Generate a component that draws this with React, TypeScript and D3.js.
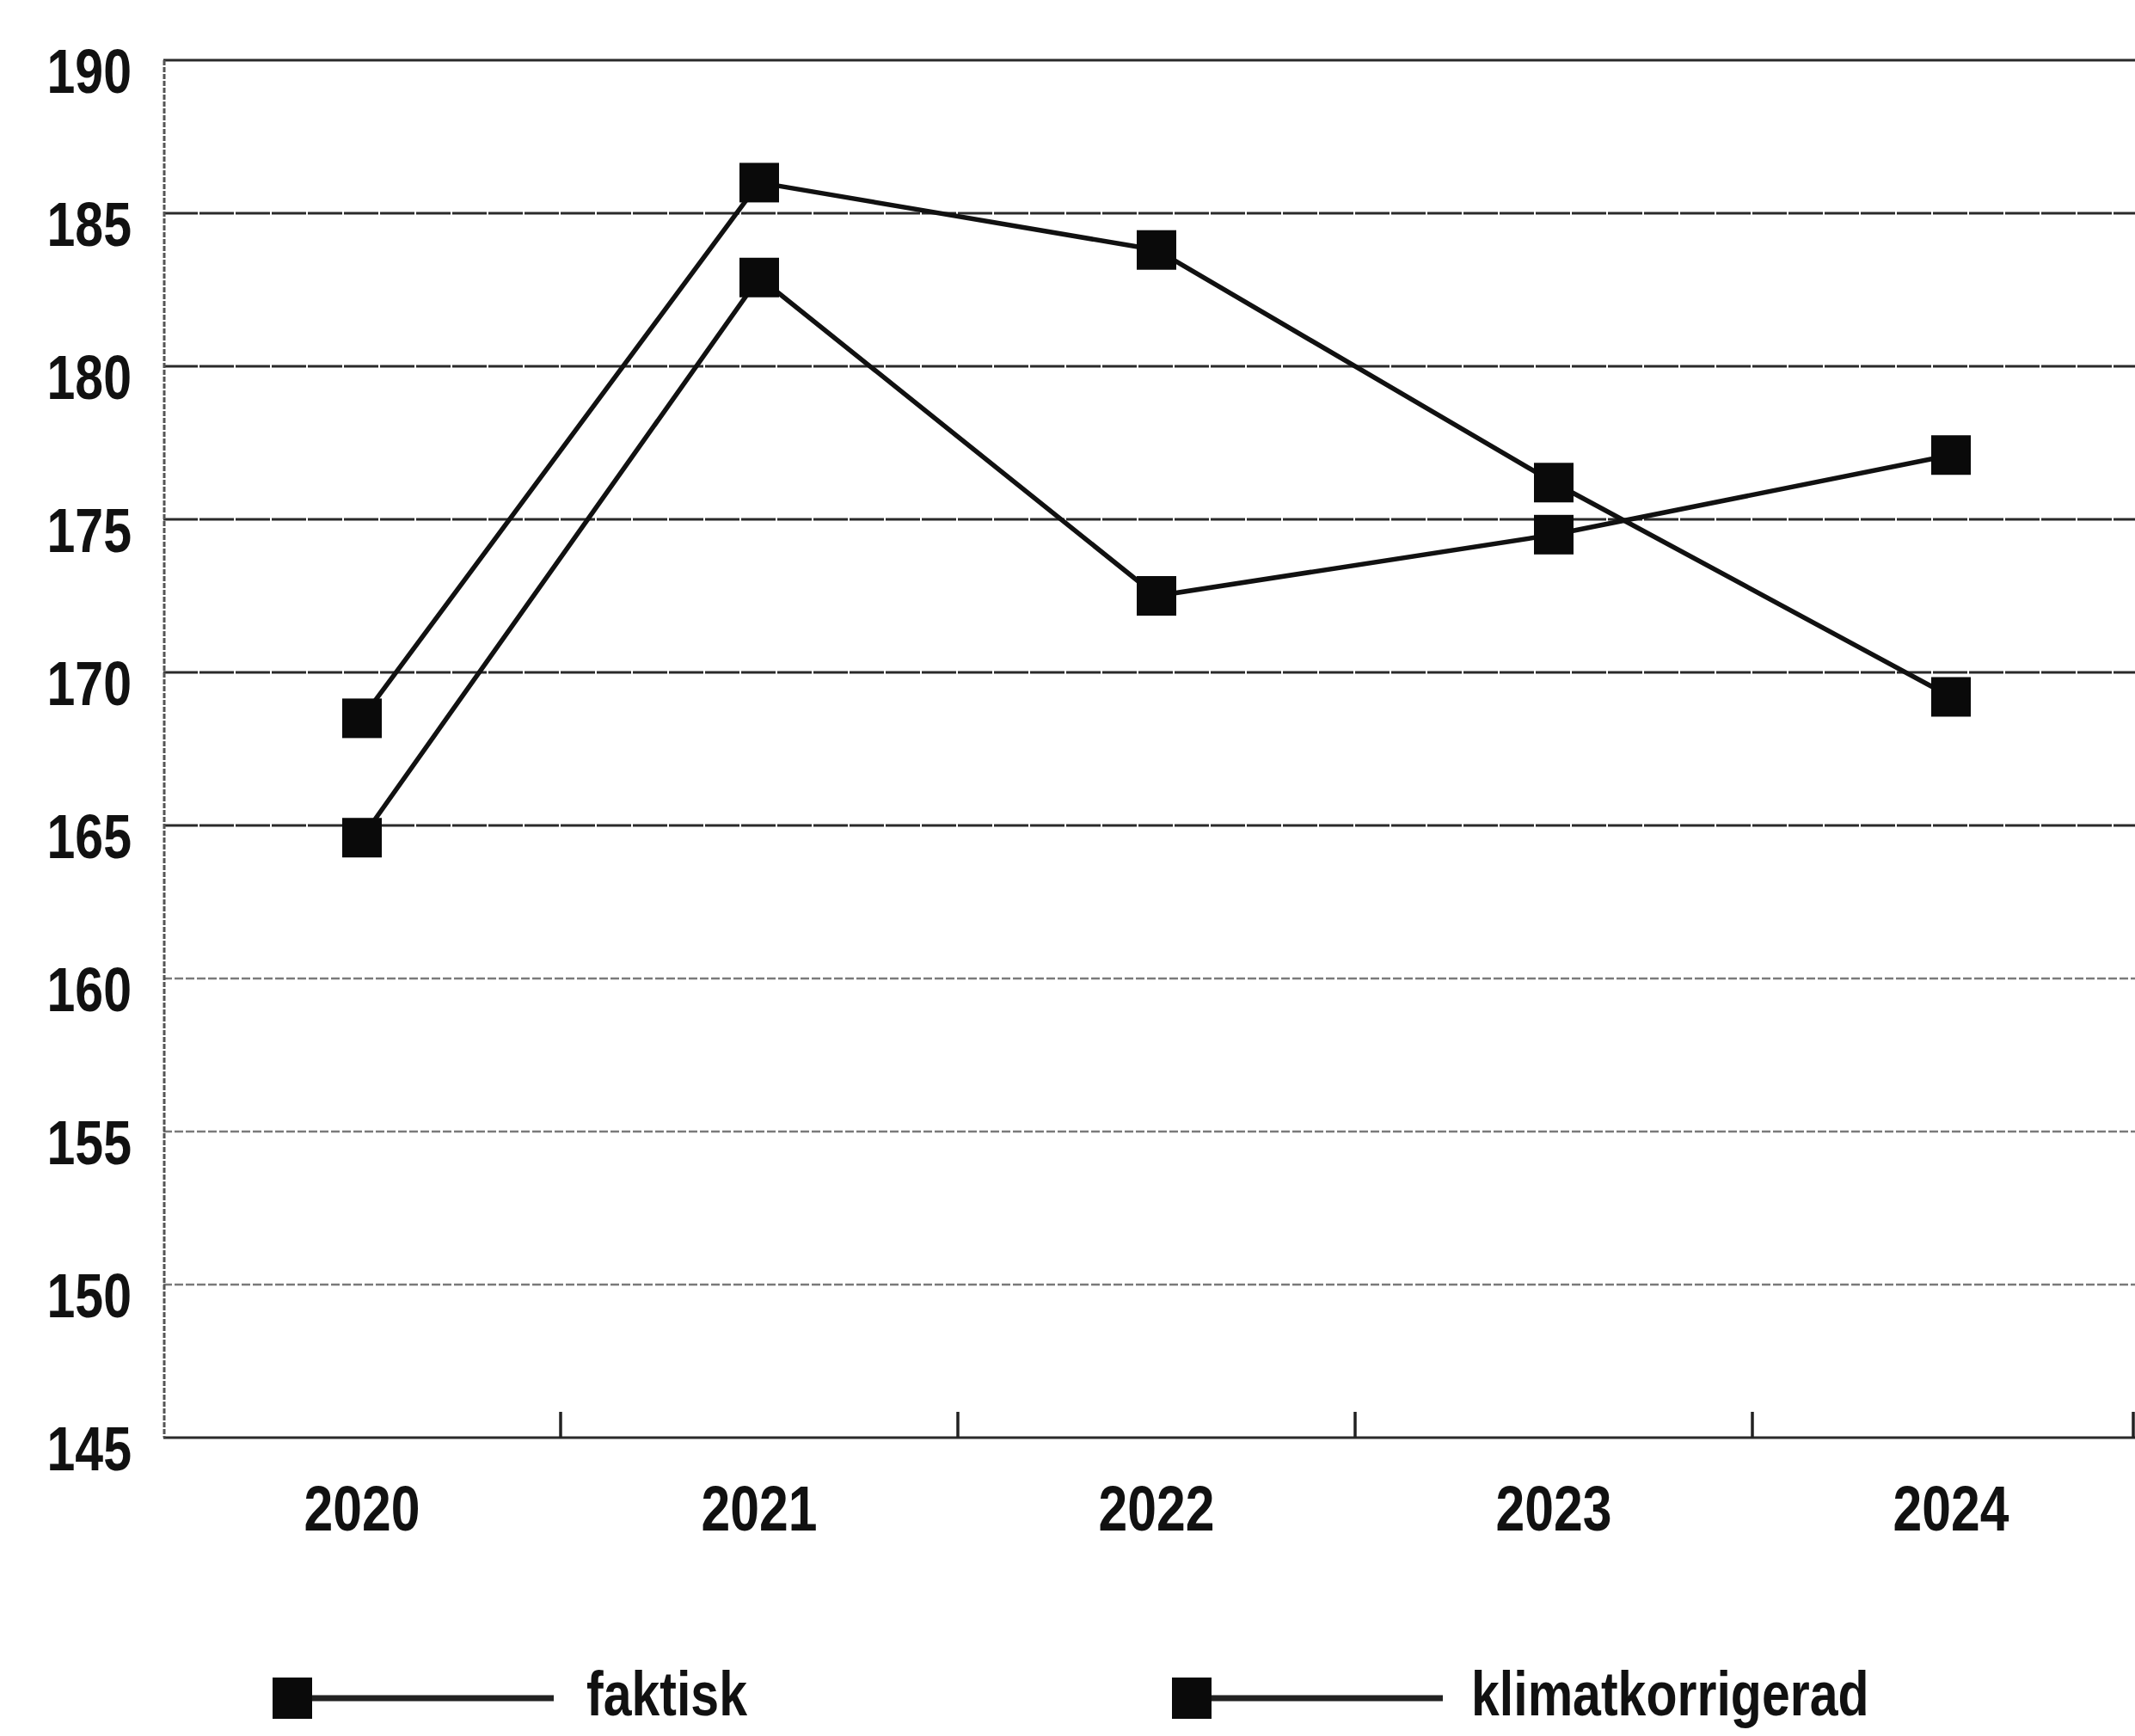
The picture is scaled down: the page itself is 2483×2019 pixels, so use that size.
import React from "react";
import * as d3 from "d3";

// Yearly values for the two series
const years = ["2020", "2021", "2022", "2023", "2024"];
const faktisk = [168.5, 186.0, 183.8, 176.2, 169.2];
const klimatkorrigerad = [164.6, 182.9, 172.5, 174.5, 177.1];
const yTicks = [145, 150, 155, 160, 165, 170, 175, 180, 185, 190];
const legendLabels = ["faktisk", "klimatkorrigerad"];

const W = 2483;
const H = 2019;
const FONT = "'Liberation Sans', Arial, sans-serif";
const SX = 0.82; // condensed look for the labels

export default function App() {
  const x = d3.scaleBand<string>().domain(years).range([190, 2500]);
  const y = d3.scaleLinear().domain([145, 190]).range([1672, 70]);
  const cx = (yr: string) => (x(yr) as number) + x.bandwidth() / 2;

  const line = d3
    .line<number>()
    .x((_, i) => cx(years[i]))
    .y((v) => y(v));

  const series = [faktisk, klimatkorrigerad];
  const marker = 46;
  const boundaries = years
    .map((yr) => (x(yr) as number) + x.bandwidth())
    .slice(0, -1)
    .concat([2481]);

  const legendItems = [
    { label: legendLabels[0], mx: 340, lx1: 362, lx2: 644, tx: 682 },
    { label: legendLabels[1], mx: 1386, lx1: 1408, lx2: 1678, tx: 1711 },
  ];
  const legendY = 1975;

  return (
    <svg
      width={W}
      height={H}
      viewBox={`0 0 ${W} ${H}`}
      style={{ position: "absolute", left: 0, top: 0, background: "#fff" }}
    >
      <rect x={0} y={0} width={W} height={H} fill="#fff" />

      {/* horizontal grid */}
      {yTicks.map((t) => {
        const light = t >= 150 && t <= 160;
        return (
          <line
            key={t}
            x1={190}
            x2={W}
            y1={y(t)}
            y2={y(t)}
            stroke={light ? "#7a7a7a" : "#2a2a2a"}
            strokeWidth={light ? 2.5 : 3}
            strokeDasharray={light ? "10 3" : t === 145 || t === 190 ? "none" : "40 2"}
          />
        );
      })}

      {/* left axis */}
      <line x1={191} x2={191} y1={y(190)} y2={y(145)} stroke="#555" strokeWidth={3} strokeDasharray="6 2" />

      {/* category separators on the baseline */}
      {boundaries.map((bx, i) => (
        <line key={i} x1={bx} x2={bx} y1={y(145)} y2={y(145) - 30} stroke="#222" strokeWidth={3.5} />
      ))}

      {/* y tick labels */}
      {yTicks.map((t) => (
        <text
          key={t}
          transform={`translate(153, ${y(t) + 38}) scale(${SX},1)`}
          textAnchor="end"
          fontFamily={FONT}
          fontWeight="bold"
          fontSize={72}
          fill="#111"
        >
          {t}
        </text>
      ))}

      {/* x tick labels */}
      {years.map((yr) => (
        <text
          key={yr}
          transform={`translate(${cx(yr)}, ${y(145) + 108}) scale(${SX},1)`}
          textAnchor="middle"
          fontFamily={FONT}
          fontWeight="bold"
          fontSize={74}
          fill="#111"
        >
          {yr}
        </text>
      ))}

      {/* series lines */}
      {series.map((s, i) => (
        <path key={i} d={line(s) || ""} fill="none" stroke="#111" strokeWidth={5.5} />
      ))}

      {/* square markers */}
      {series.map((s, i) =>
        s.map((v, j) => (
          <rect
            key={`${i}-${j}`}
            x={cx(years[j]) - marker / 2}
            y={y(v) - marker / 2}
            width={marker}
            height={marker}
            fill="#0a0a0a"
          />
        ))
      )}

      {/* legend */}
      {legendItems.map((it) => (
        <g key={it.label}>
          <line x1={it.lx1} x2={it.lx2} y1={legendY} y2={legendY} stroke="#222" strokeWidth={7} />
          <rect x={it.mx - 23} y={legendY - 24} width={46} height={48} fill="#0a0a0a" />
          <text
            transform={`translate(${it.tx}, ${legendY + 20}) scale(${SX},1)`}
            fontFamily={FONT}
            fontWeight="bold"
            fontSize={72}
            fill="#111"
          >
            {it.label}
          </text>
        </g>
      ))}
    </svg>
  );
}
